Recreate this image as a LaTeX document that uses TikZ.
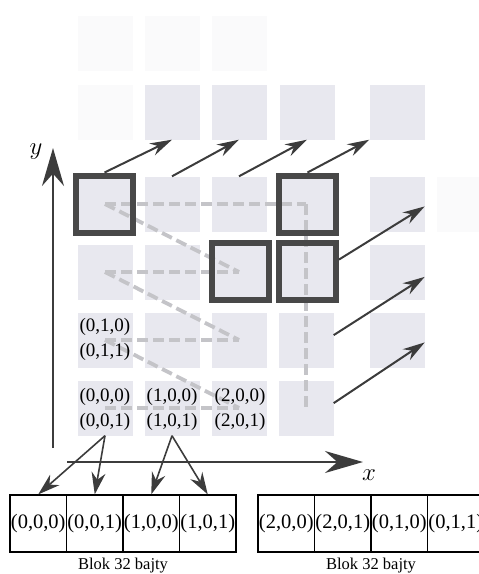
\documentclass[tikz,border=0pt]{standalone}
\usepackage{fontspec}
\setmainfont{Liberation Serif}
\usetikzlibrary{arrows.meta,calc}
\definecolor{cellfill}{HTML}{E8E8EF}
\definecolor{faintfill}{HTML}{FAFAFB}
\definecolor{inkgray}{HTML}{3C3C3C}
\definecolor{framegray}{HTML}{484848}
\definecolor{pathgray}{HTML}{C4C4C8}

\begin{document}
\begin{tikzpicture}[x=1pt,y=-1pt,
  cell/.style={fill=cellfill, minimum size=55pt, inner sep=0pt},
  faint/.style={fill=faintfill, minimum size=55pt, inner sep=0pt},
  frame/.style={draw=framegray, line width=6pt, minimum size=57pt, inner sep=0pt},
  walk/.style={draw=pathgray, line width=3.8pt, dash pattern=on 11pt off 5pt},
  jump/.style={-{Stealth[length=22pt,width=13pt]}, draw=inkgray, line width=2pt},
  axis/.style={-{Stealth[length=38pt,width=22pt]}, draw=inkgray, line width=2.2pt},
  fetch/.style={-{Stealth[length=22pt,width=14pt]}, draw=inkgray, line width=1.6pt},
  coord/.style={font=\fontsize{19}{19}\selectfont, inner sep=0pt},
  byte/.style={draw=black, line width=1.2pt, minimum width=56.5pt, minimum height=57pt,
               inner sep=0pt, font=\fontsize{20.5}{20}\selectfont},
  caption/.style={font=\fontsize{16.5}{16}\selectfont, inner sep=0pt},
  axlabel/.style={font=\fontsize{28}{28}\selectfont, inner sep=0pt}
]
\useasboundingbox (0,0) rectangle (479,574);

% far layers, barely visible
\foreach \c/\x in {0/105,1/172,2/239}
  \node[faint] (g-\c) at (\x,43) {};
\node[faint] (t0) at (105,112) {};
\node[faint] (e-3) at (464,204) {};

% back layer: top row and right column
\node[cell] (t1) at (172,112) {};
\node[cell] (t2) at (239,112) {};
\node[cell] (t3) at (307,112) {};
\node[cell] (t4) at (397,112) {};
\foreach \r in {1,2,3}
  \node[cell] (b-4-\r) at (397,{408-68*\r}) {};

% front layer, 4 x 4 cells
\foreach \c in {0,...,3}
  \foreach \r in {0,...,3}
    \node[cell] (f-\c-\r) at ({105+67*\c},{408-68*\r}) {};

% traversal order through the front layer
\draw[walk] (f-0-3.center) -- (f-3-3.center);
\draw[walk] (f-0-3.center) -- (f-2-2.center);
\draw[walk] (f-0-2.center) -- (f-2-2.center);
\draw[walk] (f-0-2.center) -- (f-2-1.center);
\draw[walk] (f-0-1.center) -- (f-2-1.center);
\draw[walk] (f-0-1.center) -- (f-2-0.center);
\draw[walk] (f-0-0.center) -- (f-2-0.center);
\draw[walk] (f-3-3.center) -- (f-3-0.center);

% highlighted cells
\node[frame] (k03) at (104.5,204) {};
\node[frame] (k33) at (307.5,204) {};
\node[frame] (k22) at (240,271) {};
\node[frame] (k32) at (307.5,271) {};

% links to the back layer
\draw[jump] (k03.north) -- (t1.south);
\draw[jump] (f-1-3.north) -- (t2.south);
\draw[jump] (f-2-3.north) -- (t3.south);
\draw[jump] (k33.north) -- (t4.south west);
\draw[jump] (k32.20) -- (b-4-3.-5);
\draw[jump] (f-3-1.10) -- (b-4-2.-10);
\draw[jump] (f-3-0.10) -- (b-4-1.-5);

% cell coordinates
\node[coord] (l010) at (105,327) {(0,1,0)};
\node[coord] (l011) at (105,352) {(0,1,1)};
\node[coord] (l000) at (105,397) {(0,0,0)};
\node[coord] (l001) at (105,422) {(0,0,1)};
\node[coord] (l100) at (172,397) {(1,0,0)};
\node[coord] (l101) at (172,422) {(1,0,1)};
\node[coord] (l200) at (240,397) {(2,0,0)};
\node[coord] (l201) at (240,422) {(2,0,1)};

% axes
\coordinate (yfoot) at (53,448);
\coordinate (ytip) at (53,148);
\coordinate (xfoot) at (67,462);
\coordinate (xtip) at (363,462);
\draw[axis] (yfoot) -- (ytip);
\draw[axis] (xfoot) -- (xtip);
\node[axlabel] (ylab) at (36,152) {$y$};
\node[axlabel] (xlab) at (369,475) {$x$};

% memory blocks
\node[byte] (m1) at (38.25,523.5) {(0,0,0)};
\node[byte] (m2) at (94.75,523.5) {(0,0,1)};
\node[byte] (m3) at (151.25,523.5) {(1,0,0)};
\node[byte] (m4) at (207.75,523.5) {(1,0,1)};
\node[byte] (n1) at (286.25,523.5) {(2,0,0)};
\node[byte] (n2) at (342.75,523.5) {(2,0,1)};
\node[byte] (n3) at (399.25,523.5) {(0,1,0)};
\node[byte] (n4) at (455.75,523.5) {(0,1,1)};
\node[caption] (cap1) at (123,566) {Blok 32 bajty};
\node[caption] (cap2) at (371,566) {Blok 32 bajty};

% where the cells land in memory
\draw[fetch] (f-0-0.south) -- (m1.north);
\draw[fetch] (f-0-0.south) -- (m2.north);
\draw[fetch] (f-1-0.south) -- (m3.north);
\draw[fetch] (f-1-0.south) -- (m4.north);
\end{tikzpicture}
\end{document}
